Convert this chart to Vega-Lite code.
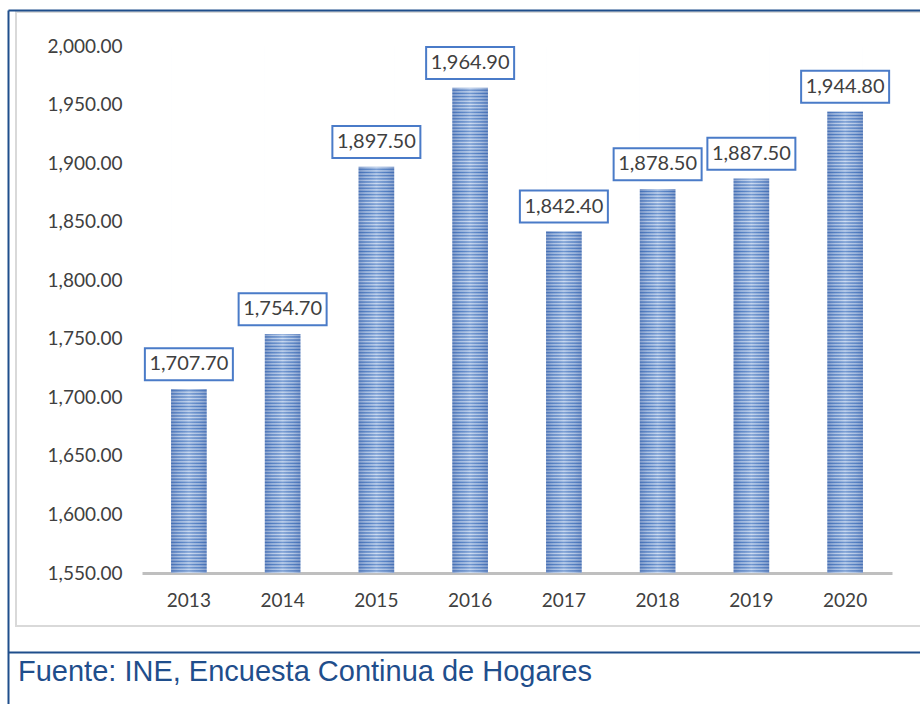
{
  "$schema": "https://vega.github.io/schema/vega-lite/v6.json",
  "width": 914,
  "height": 614,
  "autosize": "none",
  "padding": {"left": 16, "top": 12, "right": -10, "bottom": 78},
  "background": "white",
  "data": {"values": [
    {"anio": "2013", "valor": 1707.7},
    {"anio": "2014", "valor": 1754.7},
    {"anio": "2015", "valor": 1897.5},
    {"anio": "2016", "valor": 1964.9},
    {"anio": "2017", "valor": 1842.4},
    {"anio": "2018", "valor": 1878.5},
    {"anio": "2019", "valor": 1887.5},
    {"anio": "2020", "valor": 1944.8}
  ]},
  "title": {
    "text": "Fuente: INE, Encuesta Continua de Hogares",
    "orient": "bottom",
    "anchor": "start",
    "frame": "group",
    "font": "Liberation Sans",
    "fontSize": 29,
    "fontWeight": "normal",
    "color": "#1F4E8C",
    "baseline": "alphabetic",
    "offset": -34,
    "dx": 2
  },
  "layer": [
    {
      "layer": [
        {
          "mark": {
            "type": "bar",
            "fill": {
              "gradient": "linear",
              "x1": 0, "y1": 0, "x2": 0, "y2": 1,
              "stops": [
{"offset":0,"color":"#5482C6"},{"offset":0.003,"color":"#C9D9F0"},{"offset":0.006,"color":"#5482C6"},{"offset":0.009,"color":"#C9D9F0"},{"offset":0.012,"color":"#5482C6"},{"offset":0.015,"color":"#C9D9F0"},{"offset":0.018,"color":"#5482C6"},{"offset":0.021,"color":"#C9D9F0"},{"offset":0.024,"color":"#5482C6"},{"offset":0.027,"color":"#C9D9F0"},
{"offset":0.03,"color":"#5482C6"},{"offset":0.033,"color":"#C9D9F0"},{"offset":0.036,"color":"#5482C6"},{"offset":0.039,"color":"#C9D9F0"},{"offset":0.042,"color":"#5482C6"},{"offset":0.045,"color":"#C9D9F0"},{"offset":0.048,"color":"#5482C6"},{"offset":0.051,"color":"#C9D9F0"},{"offset":0.054,"color":"#5482C6"},{"offset":0.057,"color":"#C9D9F0"},
{"offset":0.06,"color":"#5482C6"},{"offset":0.063,"color":"#C9D9F0"},{"offset":0.066,"color":"#5482C6"},{"offset":0.069,"color":"#C9D9F0"},{"offset":0.072,"color":"#5482C6"},{"offset":0.075,"color":"#C9D9F0"},{"offset":0.078,"color":"#5482C6"},{"offset":0.081,"color":"#C9D9F0"},{"offset":0.084,"color":"#5482C6"},{"offset":0.087,"color":"#C9D9F0"},
{"offset":0.09,"color":"#5482C6"},{"offset":0.093,"color":"#C9D9F0"},{"offset":0.096,"color":"#5482C6"},{"offset":0.099,"color":"#C9D9F0"},{"offset":0.102,"color":"#5482C6"},{"offset":0.105,"color":"#C9D9F0"},{"offset":0.108,"color":"#5482C6"},{"offset":0.111,"color":"#C9D9F0"},{"offset":0.114,"color":"#5482C6"},{"offset":0.117,"color":"#C9D9F0"},
{"offset":0.12,"color":"#5482C6"},{"offset":0.123,"color":"#C9D9F0"},{"offset":0.126,"color":"#5482C6"},{"offset":0.129,"color":"#C9D9F0"},{"offset":0.132,"color":"#5482C6"},{"offset":0.135,"color":"#C9D9F0"},{"offset":0.138,"color":"#5482C6"},{"offset":0.141,"color":"#C9D9F0"},{"offset":0.144,"color":"#5482C6"},{"offset":0.147,"color":"#C9D9F0"},
{"offset":0.15,"color":"#5482C6"},{"offset":0.153,"color":"#C9D9F0"},{"offset":0.156,"color":"#5482C6"},{"offset":0.159,"color":"#C9D9F0"},{"offset":0.162,"color":"#5482C6"},{"offset":0.165,"color":"#C9D9F0"},{"offset":0.168,"color":"#5482C6"},{"offset":0.171,"color":"#C9D9F0"},{"offset":0.174,"color":"#5482C6"},{"offset":0.177,"color":"#C9D9F0"},
{"offset":0.18,"color":"#5482C6"},{"offset":0.183,"color":"#C9D9F0"},{"offset":0.186,"color":"#5482C6"},{"offset":0.189,"color":"#C9D9F0"},{"offset":0.192,"color":"#5482C6"},{"offset":0.195,"color":"#C9D9F0"},{"offset":0.198,"color":"#5482C6"},{"offset":0.201,"color":"#C9D9F0"},{"offset":0.204,"color":"#5482C6"},{"offset":0.207,"color":"#C9D9F0"},
{"offset":0.21,"color":"#5482C6"},{"offset":0.213,"color":"#C9D9F0"},{"offset":0.216,"color":"#5482C6"},{"offset":0.219,"color":"#C9D9F0"},{"offset":0.222,"color":"#5482C6"},{"offset":0.225,"color":"#C9D9F0"},{"offset":0.228,"color":"#5482C6"},{"offset":0.231,"color":"#C9D9F0"},{"offset":0.234,"color":"#5482C6"},{"offset":0.237,"color":"#C9D9F0"},
{"offset":0.24,"color":"#5482C6"},{"offset":0.243,"color":"#C9D9F0"},{"offset":0.246,"color":"#5482C6"},{"offset":0.249,"color":"#C9D9F0"},{"offset":0.252,"color":"#5482C6"},{"offset":0.255,"color":"#C9D9F0"},{"offset":0.258,"color":"#5482C6"},{"offset":0.261,"color":"#C9D9F0"},{"offset":0.264,"color":"#5482C6"},{"offset":0.267,"color":"#C9D9F0"},
{"offset":0.27,"color":"#5482C6"},{"offset":0.273,"color":"#C9D9F0"},{"offset":0.276,"color":"#5482C6"},{"offset":0.279,"color":"#C9D9F0"},{"offset":0.282,"color":"#5482C6"},{"offset":0.285,"color":"#C9D9F0"},{"offset":0.288,"color":"#5482C6"},{"offset":0.291,"color":"#C9D9F0"},{"offset":0.294,"color":"#5482C6"},{"offset":0.297,"color":"#C9D9F0"},
{"offset":0.3,"color":"#5482C6"},{"offset":0.303,"color":"#C9D9F0"},{"offset":0.306,"color":"#5482C6"},{"offset":0.309,"color":"#C9D9F0"},{"offset":0.312,"color":"#5482C6"},{"offset":0.315,"color":"#C9D9F0"},{"offset":0.318,"color":"#5482C6"},{"offset":0.321,"color":"#C9D9F0"},{"offset":0.324,"color":"#5482C6"},{"offset":0.327,"color":"#C9D9F0"},
{"offset":0.33,"color":"#5482C6"},{"offset":0.333,"color":"#C9D9F0"},{"offset":0.336,"color":"#5482C6"},{"offset":0.339,"color":"#C9D9F0"},{"offset":0.342,"color":"#5482C6"},{"offset":0.345,"color":"#C9D9F0"},{"offset":0.348,"color":"#5482C6"},{"offset":0.351,"color":"#C9D9F0"},{"offset":0.354,"color":"#5482C6"},{"offset":0.357,"color":"#C9D9F0"},
{"offset":0.36,"color":"#5482C6"},{"offset":0.363,"color":"#C9D9F0"},{"offset":0.366,"color":"#5482C6"},{"offset":0.369,"color":"#C9D9F0"},{"offset":0.372,"color":"#5482C6"},{"offset":0.375,"color":"#C9D9F0"},{"offset":0.378,"color":"#5482C6"},{"offset":0.381,"color":"#C9D9F0"},{"offset":0.384,"color":"#5482C6"},{"offset":0.387,"color":"#C9D9F0"},
{"offset":0.39,"color":"#5482C6"},{"offset":0.393,"color":"#C9D9F0"},{"offset":0.396,"color":"#5482C6"},{"offset":0.399,"color":"#C9D9F0"},{"offset":0.402,"color":"#5482C6"},{"offset":0.405,"color":"#C9D9F0"},{"offset":0.408,"color":"#5482C6"},{"offset":0.411,"color":"#C9D9F0"},{"offset":0.414,"color":"#5482C6"},{"offset":0.417,"color":"#C9D9F0"},
{"offset":0.42,"color":"#5482C6"},{"offset":0.423,"color":"#C9D9F0"},{"offset":0.426,"color":"#5482C6"},{"offset":0.429,"color":"#C9D9F0"},{"offset":0.432,"color":"#5482C6"},{"offset":0.435,"color":"#C9D9F0"},{"offset":0.438,"color":"#5482C6"},{"offset":0.441,"color":"#C9D9F0"},{"offset":0.444,"color":"#5482C6"},{"offset":0.447,"color":"#C9D9F0"},
{"offset":0.45,"color":"#5482C6"},{"offset":0.453,"color":"#C9D9F0"},{"offset":0.456,"color":"#5482C6"},{"offset":0.459,"color":"#C9D9F0"},{"offset":0.462,"color":"#5482C6"},{"offset":0.465,"color":"#C9D9F0"},{"offset":0.468,"color":"#5482C6"},{"offset":0.471,"color":"#C9D9F0"},{"offset":0.474,"color":"#5482C6"},{"offset":0.477,"color":"#C9D9F0"},
{"offset":0.48,"color":"#5482C6"},{"offset":0.483,"color":"#C9D9F0"},{"offset":0.486,"color":"#5482C6"},{"offset":0.489,"color":"#C9D9F0"},{"offset":0.492,"color":"#5482C6"},{"offset":0.495,"color":"#C9D9F0"},{"offset":0.498,"color":"#5482C6"},{"offset":0.501,"color":"#C9D9F0"},{"offset":0.504,"color":"#5482C6"},{"offset":0.507,"color":"#C9D9F0"},
{"offset":0.51,"color":"#5482C6"},{"offset":0.513,"color":"#C9D9F0"},{"offset":0.516,"color":"#5482C6"},{"offset":0.519,"color":"#C9D9F0"},{"offset":0.522,"color":"#5482C6"},{"offset":0.525,"color":"#C9D9F0"},{"offset":0.528,"color":"#5482C6"},{"offset":0.531,"color":"#C9D9F0"},{"offset":0.534,"color":"#5482C6"},{"offset":0.537,"color":"#C9D9F0"},
{"offset":0.54,"color":"#5482C6"},{"offset":0.543,"color":"#C9D9F0"},{"offset":0.546,"color":"#5482C6"},{"offset":0.549,"color":"#C9D9F0"},{"offset":0.552,"color":"#5482C6"},{"offset":0.555,"color":"#C9D9F0"},{"offset":0.558,"color":"#5482C6"},{"offset":0.561,"color":"#C9D9F0"},{"offset":0.564,"color":"#5482C6"},{"offset":0.567,"color":"#C9D9F0"},
{"offset":0.57,"color":"#5482C6"},{"offset":0.573,"color":"#C9D9F0"},{"offset":0.576,"color":"#5482C6"},{"offset":0.579,"color":"#C9D9F0"},{"offset":0.582,"color":"#5482C6"},{"offset":0.585,"color":"#C9D9F0"},{"offset":0.588,"color":"#5482C6"},{"offset":0.591,"color":"#C9D9F0"},{"offset":0.594,"color":"#5482C6"},{"offset":0.597,"color":"#C9D9F0"},
{"offset":0.6,"color":"#5482C6"},{"offset":0.603,"color":"#C9D9F0"},{"offset":0.606,"color":"#5482C6"},{"offset":0.609,"color":"#C9D9F0"},{"offset":0.612,"color":"#5482C6"},{"offset":0.615,"color":"#C9D9F0"},{"offset":0.618,"color":"#5482C6"},{"offset":0.621,"color":"#C9D9F0"},{"offset":0.624,"color":"#5482C6"},{"offset":0.627,"color":"#C9D9F0"},
{"offset":0.63,"color":"#5482C6"},{"offset":0.633,"color":"#C9D9F0"},{"offset":0.636,"color":"#5482C6"},{"offset":0.639,"color":"#C9D9F0"},{"offset":0.642,"color":"#5482C6"},{"offset":0.645,"color":"#C9D9F0"},{"offset":0.648,"color":"#5482C6"},{"offset":0.651,"color":"#C9D9F0"},{"offset":0.654,"color":"#5482C6"},{"offset":0.657,"color":"#C9D9F0"},
{"offset":0.66,"color":"#5482C6"},{"offset":0.663,"color":"#C9D9F0"},{"offset":0.666,"color":"#5482C6"},{"offset":0.669,"color":"#C9D9F0"},{"offset":0.672,"color":"#5482C6"},{"offset":0.675,"color":"#C9D9F0"},{"offset":0.678,"color":"#5482C6"},{"offset":0.681,"color":"#C9D9F0"},{"offset":0.684,"color":"#5482C6"},{"offset":0.687,"color":"#C9D9F0"},
{"offset":0.69,"color":"#5482C6"},{"offset":0.693,"color":"#C9D9F0"},{"offset":0.696,"color":"#5482C6"},{"offset":0.699,"color":"#C9D9F0"},{"offset":0.702,"color":"#5482C6"},{"offset":0.705,"color":"#C9D9F0"},{"offset":0.708,"color":"#5482C6"},{"offset":0.711,"color":"#C9D9F0"},{"offset":0.714,"color":"#5482C6"},{"offset":0.717,"color":"#C9D9F0"},
{"offset":0.72,"color":"#5482C6"},{"offset":0.723,"color":"#C9D9F0"},{"offset":0.726,"color":"#5482C6"},{"offset":0.729,"color":"#C9D9F0"},{"offset":0.732,"color":"#5482C6"},{"offset":0.735,"color":"#C9D9F0"},{"offset":0.738,"color":"#5482C6"},{"offset":0.741,"color":"#C9D9F0"},{"offset":0.744,"color":"#5482C6"},{"offset":0.747,"color":"#C9D9F0"},
{"offset":0.75,"color":"#5482C6"},{"offset":0.753,"color":"#C9D9F0"},{"offset":0.756,"color":"#5482C6"},{"offset":0.759,"color":"#C9D9F0"},{"offset":0.762,"color":"#5482C6"},{"offset":0.765,"color":"#C9D9F0"},{"offset":0.768,"color":"#5482C6"},{"offset":0.771,"color":"#C9D9F0"},{"offset":0.774,"color":"#5482C6"},{"offset":0.777,"color":"#C9D9F0"},
{"offset":0.78,"color":"#5482C6"},{"offset":0.783,"color":"#C9D9F0"},{"offset":0.786,"color":"#5482C6"},{"offset":0.789,"color":"#C9D9F0"},{"offset":0.792,"color":"#5482C6"},{"offset":0.795,"color":"#C9D9F0"},{"offset":0.798,"color":"#5482C6"},{"offset":0.801,"color":"#C9D9F0"},{"offset":0.804,"color":"#5482C6"},{"offset":0.807,"color":"#C9D9F0"},
{"offset":0.81,"color":"#5482C6"},{"offset":0.813,"color":"#C9D9F0"},{"offset":0.816,"color":"#5482C6"},{"offset":0.819,"color":"#C9D9F0"},{"offset":0.822,"color":"#5482C6"},{"offset":0.825,"color":"#C9D9F0"},{"offset":0.828,"color":"#5482C6"},{"offset":0.831,"color":"#C9D9F0"},{"offset":0.834,"color":"#5482C6"},{"offset":0.837,"color":"#C9D9F0"},
{"offset":0.84,"color":"#5482C6"},{"offset":0.843,"color":"#C9D9F0"},{"offset":0.846,"color":"#5482C6"},{"offset":0.849,"color":"#C9D9F0"},{"offset":0.852,"color":"#5482C6"},{"offset":0.855,"color":"#C9D9F0"},{"offset":0.858,"color":"#5482C6"},{"offset":0.861,"color":"#C9D9F0"},{"offset":0.864,"color":"#5482C6"},{"offset":0.867,"color":"#C9D9F0"},
{"offset":0.87,"color":"#5482C6"},{"offset":0.873,"color":"#C9D9F0"},{"offset":0.876,"color":"#5482C6"},{"offset":0.879,"color":"#C9D9F0"},{"offset":0.882,"color":"#5482C6"},{"offset":0.885,"color":"#C9D9F0"},{"offset":0.888,"color":"#5482C6"},{"offset":0.891,"color":"#C9D9F0"},{"offset":0.894,"color":"#5482C6"},{"offset":0.897,"color":"#C9D9F0"},
{"offset":0.9,"color":"#5482C6"},{"offset":0.903,"color":"#C9D9F0"},{"offset":0.906,"color":"#5482C6"},{"offset":0.909,"color":"#C9D9F0"},{"offset":0.912,"color":"#5482C6"},{"offset":0.915,"color":"#C9D9F0"},{"offset":0.918,"color":"#5482C6"},{"offset":0.921,"color":"#C9D9F0"},{"offset":0.924,"color":"#5482C6"},{"offset":0.927,"color":"#C9D9F0"},
{"offset":0.93,"color":"#5482C6"},{"offset":0.933,"color":"#C9D9F0"},{"offset":0.936,"color":"#5482C6"},{"offset":0.939,"color":"#C9D9F0"},{"offset":0.942,"color":"#5482C6"},{"offset":0.945,"color":"#C9D9F0"},{"offset":0.948,"color":"#5482C6"},{"offset":0.951,"color":"#C9D9F0"},{"offset":0.954,"color":"#5482C6"},{"offset":0.957,"color":"#C9D9F0"},
{"offset":0.96,"color":"#5482C6"},{"offset":0.963,"color":"#C9D9F0"},{"offset":0.966,"color":"#5482C6"},{"offset":0.969,"color":"#C9D9F0"},{"offset":0.972,"color":"#5482C6"},{"offset":0.975,"color":"#C9D9F0"},{"offset":0.978,"color":"#5482C6"},{"offset":0.981,"color":"#C9D9F0"},{"offset":0.984,"color":"#5482C6"},{"offset":0.987,"color":"#C9D9F0"},
{"offset":0.99,"color":"#5482C6"},{"offset":0.993,"color":"#C9D9F0"},{"offset":0.996,"color":"#5482C6"},{"offset":0.999,"color":"#C9D9F0"},{"offset":1,"color":"#5482C6"}
              ]
            }
          },
          "encoding": {
            "x": {
              "field": "anio",
              "type": "nominal",
              "sort": null,
              "scale": {"range": [126, 876], "paddingInner": 0.62, "paddingOuter": 0.31},
              "axis": {
                "orient": "bottom",
                "offset": -53,
                "title": null,
                "domainColor": "#BFBFBF",
                "domainWidth": 3,
                "ticks": false,
                "tickSize": 0,
                "labelAngle": 0,
                "labelPadding": 18,
                "labelFont": "Lato",
                "labelFontSize": 19,
                "labelColor": "#404040",
                "grid": false
              }
            },
            "y": {
              "datum": 2000,
              "type": "quantitative",
              "scale": {"domain": [1550, 2000], "range": [561, 34], "nice": false, "zero": false},
              "axis": {
                "orient": "left",
                "offset": -126,
                "title": null,
                "domain": false,
                "ticks": false,
                "tickSize": 0,
                "grid": false,
                "values": [1550, 1600, 1650, 1700, 1750, 1800, 1850, 1900, 1950, 2000],
                "format": ",.2f",
                "labelPadding": 20,
                "labelFont": "Lato",
                "labelFontSize": 19,
                "labelColor": "#404040"
              }
            },
            "y2": {"datum": 1550}
          }
        },
        {
          "mark": {
            "type": "bar",
            "fill": {
              "gradient": "linear",
              "x1": 0, "y1": 0, "x2": 1, "y2": 0,
              "stops": [
                {"offset": 0, "color": "rgba(30,65,140,0.32)"},
                {"offset": 0.22, "color": "rgba(30,65,140,0.1)"},
                {"offset": 0.5, "color": "rgba(255,255,255,0.15)"},
                {"offset": 0.78, "color": "rgba(30,65,140,0.1)"},
                {"offset": 1, "color": "rgba(30,65,140,0.32)"}
              ]
            }
          },
          "encoding": {
            "x": {"field": "anio", "type": "nominal", "sort": null},
            "y": {"datum": 2000, "type": "quantitative"},
            "y2": {"datum": 1550}
          }
        },
        {
          "mark": {"type": "bar", "fill": "white", "stroke": "white", "strokeWidth": 1.5},
          "encoding": {
            "x": {"field": "anio", "type": "nominal", "sort": null},
            "y": {"field": "valor", "type": "quantitative"},
            "y2": {"datum": 2000}
          }
        },
        {
          "mark": {
            "type": "point",
            "shape": "M-1,-0.3636H1V0.3636H-1Z",
            "size": 7744,
            "filled": true,
            "fill": "white",
            "stroke": "#4A7BC8",
            "strokeWidth": 2,
            "opacity": 1,
            "yOffset": -24
          },
          "encoding": {
            "x": {"field": "anio", "type": "nominal", "sort": null},
            "y": {"field": "valor", "type": "quantitative"}
          }
        },
        {
          "mark": {
            "type": "text",
            "font": "Lato",
            "fontSize": 20,
            "color": "#404040",
            "baseline": "middle",
            "yOffset": -24
          },
          "encoding": {
            "x": {"field": "anio", "type": "nominal", "sort": null},
            "y": {"field": "valor", "type": "quantitative"},
            "text": {"field": "valor", "type": "quantitative", "format": ",.2f"}
          }
        }
      ]
    },
    {
      "mark": {"type": "point", "opacity": 0},
      "encoding": {
        "x": {
          "datum": 0,
          "type": "quantitative",
          "scale": {"domain": [0, 1], "range": [-8, 920]},
          "axis": {"orient": "top", "offset": 2, "domainColor": "#1F4E8C", "domainWidth": 2, "ticks": false, "labels": false, "grid": false, "title": null}
        },
        "y": {
          "datum": 0,
          "type": "quantitative",
          "scale": {"domain": [0, 1], "range": [700, -2]},
          "axis": {"orient": "left", "offset": 8, "domainColor": "#1F4E8C", "domainWidth": 2, "ticks": false, "labels": false, "grid": false, "title": null}
        }
      }
    },
    {
      "mark": {"type": "point", "opacity": 0},
      "encoding": {
        "x": {
          "datum": 0,
          "type": "quantitative",
          "scale": {"domain": [0, 1], "range": [-8, 920]},
          "axis": {"orient": "bottom", "offset": 26, "domainColor": "#1F4E8C", "domainWidth": 2, "ticks": false, "labels": false, "grid": false, "title": null}
        }
      }
    }
  ],
  "resolve": {
    "scale": {"x": "independent", "y": "independent"},
    "axis": {"x": "independent", "y": "independent"}
  },
  "config": {
    "view": {"stroke": "#D9D9D9", "strokeWidth": 2}
  }
}
